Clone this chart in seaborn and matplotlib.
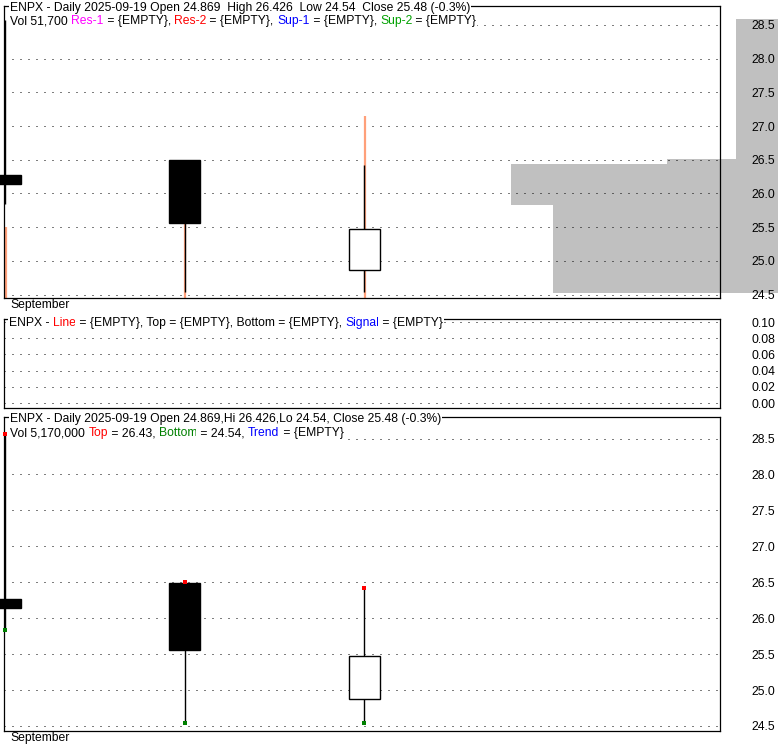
import matplotlib
matplotlib.use("Agg")
import matplotlib.pyplot as plt
import matplotlib.transforms as mtransforms
import pandas as pd
import seaborn as sns

# ---- data -------------------------------------------------------------
ticker = "ENPX"
bar_index = [0, 1, 2]
open_ = [26.27, 26.49, 24.869]
high = [28.57, 26.50, 26.426]
low = [25.84, 24.54, 24.54]
close = [26.14, 25.557, 25.48]

# secondary high/low overlay drawn behind the price wicks
overlay_low = [24.30, 24.30, 24.30]
overlay_high = [25.51, 25.54, 27.15]

# volume-at-price profile
profile_low = [24.52, 25.83, 26.43, 26.51]
profile_high = [25.83, 26.43, 26.51, 28.59]
profile_volume = [225, 267, 111, 42]

price_ticks = [24.5, 25.0, 25.5, 26.0, 26.5, 27.0, 27.5, 28.0, 28.5]
osc_ticks = [0.00, 0.02, 0.04, 0.06, 0.08, 0.10]
month_label = "September"

top_header = [
    [("ENPX - Daily 2025-09-19 Open 24.869  High 26.426  Low 24.54  Close 25.48 (-0.3%)", "black")],
    [("Vol 51,700 ", "black"), ("Res-1", "#ff00ff"), (" = {EMPTY}, ", "black"),
     ("Res-2", "#ff0000"), (" = {EMPTY}, ", "black"), ("Sup-1", "#0000ff"),
     (" = {EMPTY}, ", "black"), ("Sup-2", "#00a000"), (" = {EMPTY}", "black")],
]
mid_header = [
    [("ENPX - ", "black"), ("Line", "#ff0000"), (" = {EMPTY}, Top = {EMPTY}, Bottom = {EMPTY}, ", "black"),
     ("Signal", "#0000ff"), (" = {EMPTY}", "black")],
]
bot_header = [
    [("ENPX - Daily 2025-09-19 Open 24.869,Hi 26.426,Lo 24.54, Close 25.48 (-0.3%)", "black")],
    [("Vol 5,170,000 ", "black"), ("Top", "#ff0000"), (" = 26.43, ", "black"),
     ("Bottom", "#008000"), (" = 24.54, ", "black"), ("Trend", "#0000ff"), (" = {EMPTY}", "black")],
]

bars = pd.DataFrame({"i": bar_index, "open": open_, "high": high, "low": low, "close": close})

# ---- style ------------------------------------------------------------
sns.set_theme(style="white")
plt.rcParams["font.family"] = ["Liberation Sans", "DejaVu Sans"]
FS = 8.7

W, H = 780, 745
fig = plt.figure(figsize=(W / 100, H / 100), dpi=100)
fig.patch.set_facecolor("white")


def px_box(x0, y0, x1, y1):
    return [x0 / W, 1 - y1 / H, (x1 - x0) / W, (y1 - y0) / H]


XLIM = (-0.007, 3.982)
BODY_W = 0.173
PX = 0.72  # one pixel in points


def style_axes(ax, ticks, ylim, fmt):
    ax.set_facecolor("none")
    ax.set_xlim(*XLIM)
    ax.set_ylim(*ylim)
    ax.set_xticks([])
    ax.set_yticks(ticks)
    ax.set_yticklabels([fmt.format(t) for t in ticks])
    ax.yaxis.tick_right()
    ax.tick_params(axis="y", length=0, pad=39.6, labelsize=FS, labelcolor="black")
    for lbl in ax.get_yticklabels():
        lbl.set_horizontalalignment("right")
    ax.grid(False)
    ax.yaxis.grid(True, color="black", linestyle=(0, (1, 7)), linewidth=PX)
    for s in ax.spines.values():
        s.set_color("black")
        s.set_linewidth(0.9)
        s.set_visible(True)


def draw_candles(ax):
    ax.vlines(bars["i"], bars["low"], bars["high"], color="black", linewidth=1.0, zorder=3)
    for _, r in bars.iterrows():
        up = r["close"] >= r["open"]
        ax.bar(r["i"], abs(r["close"] - r["open"]), bottom=min(r["open"], r["close"]),
               width=BODY_W, color="white" if up else "black", edgecolor="black",
               linewidth=1.0, zorder=4, clip_on=False)


# volume profile (behind the top price panel, reaching to the right edge)
ax_vp = fig.add_axes(px_box(4, 6, 778, 298), zorder=-1)
ax_vp.set_facecolor("none")
ax_vp.barh([(a + b) / 2 for a, b in zip(profile_low, profile_high)], profile_volume,
           height=[b - a for a, b in zip(profile_low, profile_high)], left=0,
           color="#c0c0c0", linewidth=0)
ax_vp.set_xlim(max(profile_volume) * 2.9, 0)
ax_vp.set_ylim(24.45, 28.78)
ax_vp.axis("off")

# top price panel
ax1 = fig.add_axes(px_box(4, 6, 720, 298))
style_axes(ax1, price_ticks, (24.45, 28.78), "{:.1f}")
shift = mtransforms.ScaledTranslation(0.007, 0, fig.dpi_scale_trans)
ax1.vlines(bar_index, overlay_low, overlay_high, color="#ffa07a", linewidth=1.6,
           zorder=2, transform=ax1.transData + shift)
draw_candles(ax1)

# middle oscillator panel (empty series)
ax2 = fig.add_axes(px_box(4, 319, 720, 408))
style_axes(ax2, osc_ticks, (-0.006, 0.1037), "{:.2f}")

# bottom price panel with top/bottom markers
ax3 = fig.add_axes(px_box(4, 417, 720, 731))
style_axes(ax3, price_ticks, (24.43, 28.80), "{:.1f}")
draw_candles(ax3)
sns.scatterplot(data=bars, x="i", y="high", ax=ax3, color="#ff0000", marker="s", s=7,
                linewidth=0, zorder=6, legend=False, clip_on=False)
sns.scatterplot(data=bars, x="i", y="low", ax=ax3, color="#008000", marker="s", s=7,
                linewidth=0, zorder=6, legend=False, clip_on=False)
ax3.set_xlabel("")
ax3.set_ylabel("")
ax3.set_xlim(*XLIM)
ax3.set_ylim(24.43, 28.80)

for ax in (ax1, ax3):
    ax.annotate(month_label, xy=(0, 0), xycoords=("data", "axes fraction"),
                xytext=(3.5, -7.4), textcoords="offset points", ha="left", va="baseline",
                fontsize=FS, color="black")

# ---- multi-colour header lines ------------------------------------------
renderer = fig.canvas.get_renderer()
ident = mtransforms.IdentityTransform()


def header(lines, x0, baselines):
    for pieces, yb in zip(lines, baselines):
        x = x0
        for s, c in pieces:
            t = fig.text(x, H - yb, s, color=c, fontsize=FS, ha="left", va="baseline",
                         transform=ident, zorder=10,
                         bbox=dict(facecolor="white", edgecolor="none", pad=0.6))
            x += t.get_window_extent(renderer).width


header(top_header, 10, [11, 24])
header(mid_header, 9, [326])
header(bot_header, 10, [422, 436])

fig.savefig("out.png", dpi=100, facecolor="white")
